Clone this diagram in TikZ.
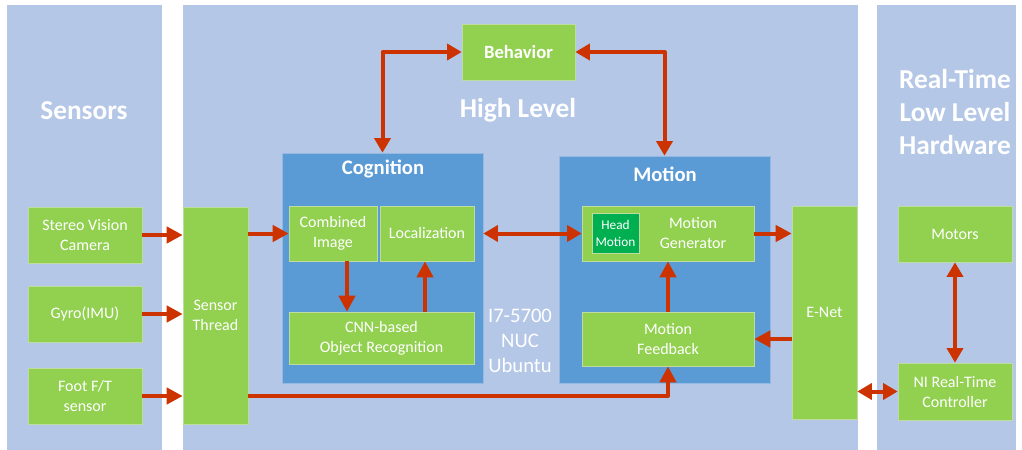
\documentclass[tikz,border=0pt]{standalone}
\usepackage{fontspec}
\setmainfont{Carlito}
\usetikzlibrary{arrows.meta}
\definecolor{panel}{RGB}{180,199,231}
\definecolor{gbox}{RGB}{146,208,80}
\definecolor{gline}{RGB}{190,220,160}
\definecolor{bbox}{RGB}{91,155,213}
\definecolor{bline}{RGB}{150,185,225}
\definecolor{dgreen}{RGB}{0,176,80}
\definecolor{arr}{RGB}{204,51,0}
\begin{document}
\begin{tikzpicture}[x=0.75pt,y=-0.75pt,
  sz/.style 2 args={minimum width=#1*0.75pt, minimum height=#2*0.75pt},
  gb/.style={fill=gbox, draw=gline, line width=0.4pt, inner sep=0pt, text=white, align=center, font=\fontsize{12}{15}\selectfont},
  bb/.style={fill=bbox, draw=bline, line width=0.4pt, inner sep=0pt},
  title/.style={text=white, font=\bfseries\fontsize{20.5}{25}\selectfont, align=center},
  sub/.style={text=white, font=\bfseries\fontsize{15.5}{19}\selectfont},
  ar/.style={draw=arr, line width=3pt, -{Triangle[length=12pt,width=12pt]}},
  dar/.style={draw=arr, line width=3pt, {Triangle[length=11pt,width=12pt]}-{Triangle[length=11pt,width=12pt]}}
]
\useasboundingbox (0,0) rectangle (1022,450);
% panels
\fill[panel] (7,5) rectangle (162,450);
\fill[panel] (183,5) rectangle (858,450);
\fill[panel] (877,5) rectangle (1016,450);
\node[title] (tS) at (84,111) {Sensors};
\node[title] (tH) at (518,110) {High Level};
\node[title] (tR) at (955,112) {Real-Time\\Low Level\\Hardware};
% sensors
\node[gb, sz={114}{56}] (stereo) at (85,235) {Stereo Vision\\Camera};
\node[gb, sz={114}{56}] (gyro) at (85,314) {Gyro(IMU)};
\node[gb, sz={114}{56}] (foot) at (85,396) {Foot F/T\\sensor};
\node[gb, sz={65}{217}] (thread) at (215.5,315.5) {Sensor\\Thread};
% behavior
\node[gb, sz={113}{56}, font=\bfseries\fontsize{14}{17}\selectfont] (beh) at (518.5,52) {Behavior};
% cognition
\node[bb, sz={201}{230}] (cog) at (382.5,268) {};
\node[sub] (tcog) at (383,169) {Cognition};
\node[gb, sz={88}{55}] (comb) at (333,233.5) {Combined\\Image};
\node[gb, sz={94}{55}] (loc) at (427,233.5) {Localization};
\node[gb, sz={185}{52}] (cnn) at (381.5,338) {CNN-based\\Object Recognition};
\node[text=white, align=center, font=\fontsize{15.5}{18.75}\selectfont] (nuc) at (520,341) {I7-5700\\NUC\\Ubuntu};
% motion
\node[bb, sz={211}{227}] (mot) at (664.5,269.5) {};
\node[sub] (tmot) at (665,174) {Motion};
\node[gb, sz={172}{55}] (gen) at (668,233.5) {};
\node[text=white, align=center, font=\fontsize{12}{15}\selectfont] (gent) at (693,233.5) {Motion\\Generator};
\node[fill=dgreen, draw=gline, line width=0.4pt, inner sep=0pt, sz={47}{40}, text=white, align=center, font=\fontsize{10}{12.75}\selectfont] (head) at (615.5,233) {Head\\Motion};
\node[gb, sz={172}{54}] (fb) at (668,339) {Motion\\Feedback};
% enet and hardware
\node[gb, sz={65}{213}] (enet) at (824.5,312.5) {E-Net};
\node[gb, sz={114}{56}] (motors) at (955,234) {Motors};
\node[gb, sz={114}{57}] (ni) at (955,391.5) {NI Real-Time\\Controller};
% arrows
\draw[ar] (stereo.east) -- (stereo.east -| thread.west);
\draw[ar] (gyro.east) -- (gyro.east -| thread.west);
\draw[ar] (foot.east) -- (foot.east -| thread.west);
\draw[ar] (thread.east |- comb.west) -- (comb.west);
\draw[ar] ([xshift=10.5pt]comb.south) -- ([xshift=10.5pt]comb.south |- cnn.north);
\draw[ar] ([xshift=-1.5pt]loc.south |- cnn.north) -- ([xshift=-1.5pt]loc.south);
\draw[dar] (cog.east |- gen.west) -- (gen.west);
\draw[ar] (gen.east) -- (gen.east -| enet.west);
\draw[ar] (enet.west |- fb.east) -- (fb.east);
\draw[ar] (fb.north) -- (gen.south);
\draw[ar, line join=round] (thread.east |- foot.east) -| (fb.south);
\draw[dar] (ni.west) -- (ni.west -| enet.east);
\draw[dar] (motors.south) -- (ni.north);
\draw[dar, line join=round] (beh.west) -| (cog.north);
\draw[dar, line join=round] (beh.east) -| (mot.north);
\end{tikzpicture}
\end{document}
